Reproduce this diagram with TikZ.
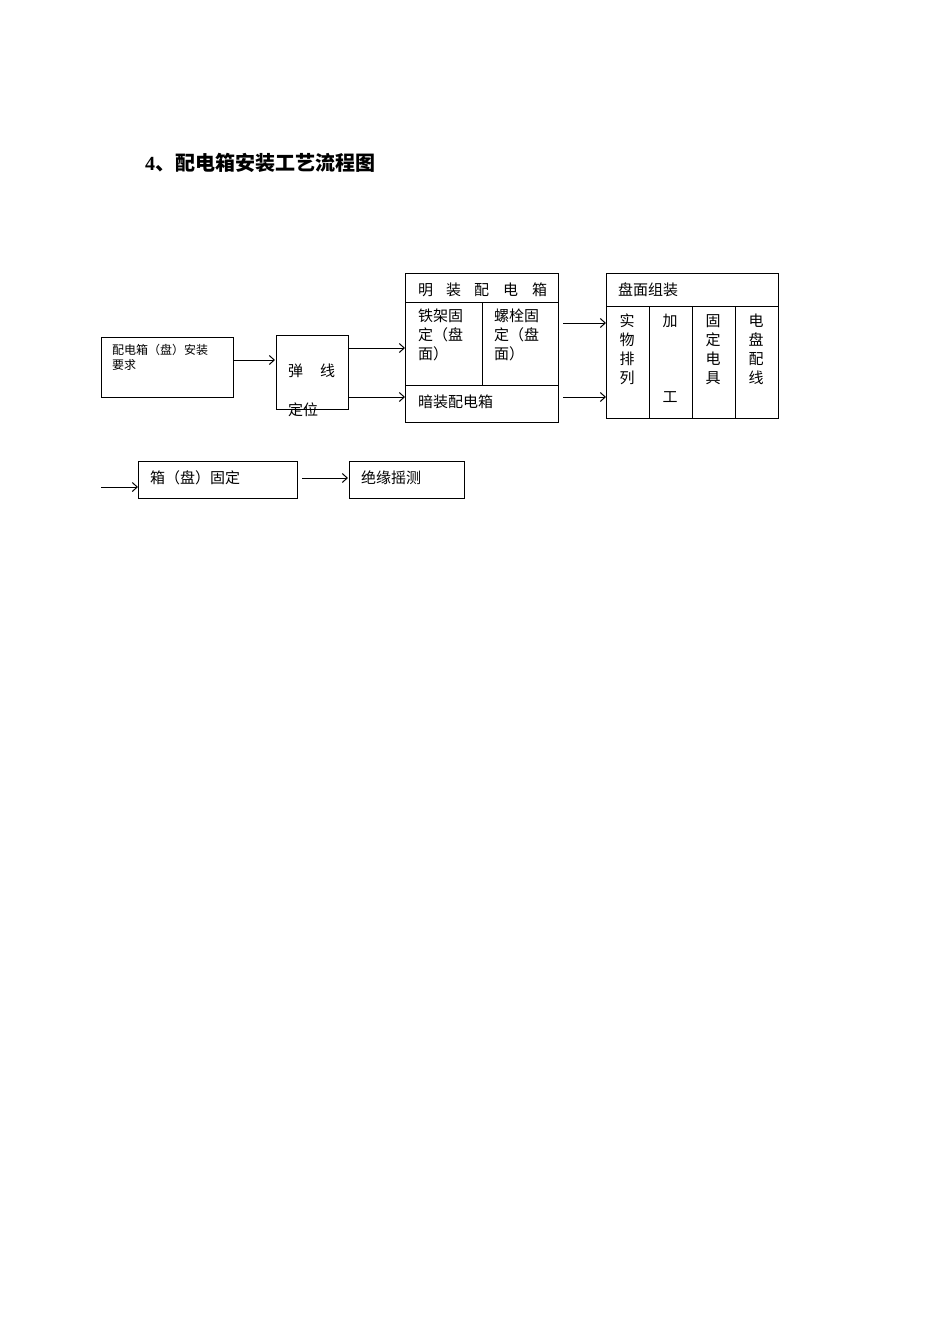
\documentclass[tikz,border=0pt]{standalone}
\usepackage{fontspec}
\setmainfont{Liberation Serif}
\newfontfamily\cjk{Noto Sans CJK SC}
\usetikzlibrary{arrows.meta}
\begin{document}
\begin{tikzpicture}[x=1pt,y=-1pt,
  bx/.style={draw,line width=1pt},
  tx/.style={anchor=west,inner sep=0pt,font=\cjk\fontsize{15}{19}\selectfont},
  vt/.style={anchor=north,inner sep=0pt,align=center,font=\cjk\fontsize{15}{19}\selectfont},
  ar/.style={line width=1pt,-{Straight Barb[length=5pt,width=9pt]}}]
\useasboundingbox (0,0) rectangle (950,1344);
\node[anchor=west,inner sep=0pt,font=\bfseries\fontsize{20}{24}\selectfont] (title) at (145,163) {4\cjk 、配电箱安装工艺流程图};
% box1
\draw[bx] (101,337) rectangle (233,397);
\node[tx,font=\cjk\fontsize{12}{15}\selectfont,align=left,anchor=north west] (b1) at (112,344) {配电箱（盘）安装\\要求};
% box2
\draw[bx] (276,335) rectangle (348,409);
\node[tx] (b2a) at (288,371) {弹};
\node[tx] (b2b) at (320,371) {线};
\node[tx] (b2c) at (288,410) {定位};
% box3
\draw[bx] (405,273) rectangle (558,422);
\draw[bx] (405,302) -- (558,302);
\draw[bx] (405,385) -- (558,385);
\draw[bx] (482,302) -- (482,385);
\node[tx] (m1) at (418,290) {明};
\node[tx] (m2) at (446,290) {装};
\node[tx] (m3) at (474,290) {配};
\node[tx] (m4) at (503,290) {电};
\node[tx] (m5) at (532,290) {箱};
\node[tx,anchor=north west,align=left] (tj) at (418,309) {铁架固\\定（盘\\面）};
\node[tx,anchor=north west,align=left] (lsh) at (494,309) {螺栓固\\定（盘\\面）};
\node[tx] (az) at (418,402) {暗装配电箱};
% box4
\draw[bx] (606,273) rectangle (778,418);
\draw[bx] (606,306) -- (778,306);
\foreach \x in {649,692,735} \draw[bx] (\x,306) -- (\x,418);
\node[tx] (pm) at (618,290) {盘面组装};
\node[vt] (c1) at (627,314) {实\\物\\排\\列};
\node[vt] (c2) at (670,314) {加};
\node[vt] (c2b) at (670,391) {工};
\node[vt] (c3) at (713,314) {固\\定\\电\\具};
\node[vt] (c4) at (756,314) {电\\盘\\配\\线};
% bottom
\draw[bx] (138,461) rectangle (297,498);
\node[tx] (xp) at (150,478) {箱（盘）固定};
\draw[bx] (349,461) rectangle (464,498);
\node[tx] (jy) at (361,478) {绝缘摇测};
% arrows
\coordinate (a1s) at (233,360); \coordinate (a1e) at (275,360);
\coordinate (a2s) at (348,348); \coordinate (a2e) at (405,348);
\coordinate (a3s) at (348,397); \coordinate (a3e) at (405,397);
\coordinate (a4s) at (563,323); \coordinate (a4e) at (606,323);
\coordinate (a5s) at (563,397); \coordinate (a5e) at (606,397);
\coordinate (a6s) at (101,487); \coordinate (a6e) at (138,487);
\coordinate (a7s) at (302,478); \coordinate (a7e) at (348,478);
\foreach \i in {1,...,7} \draw[ar] (a\i s) -- (a\i e);
\end{tikzpicture}
\end{document}
